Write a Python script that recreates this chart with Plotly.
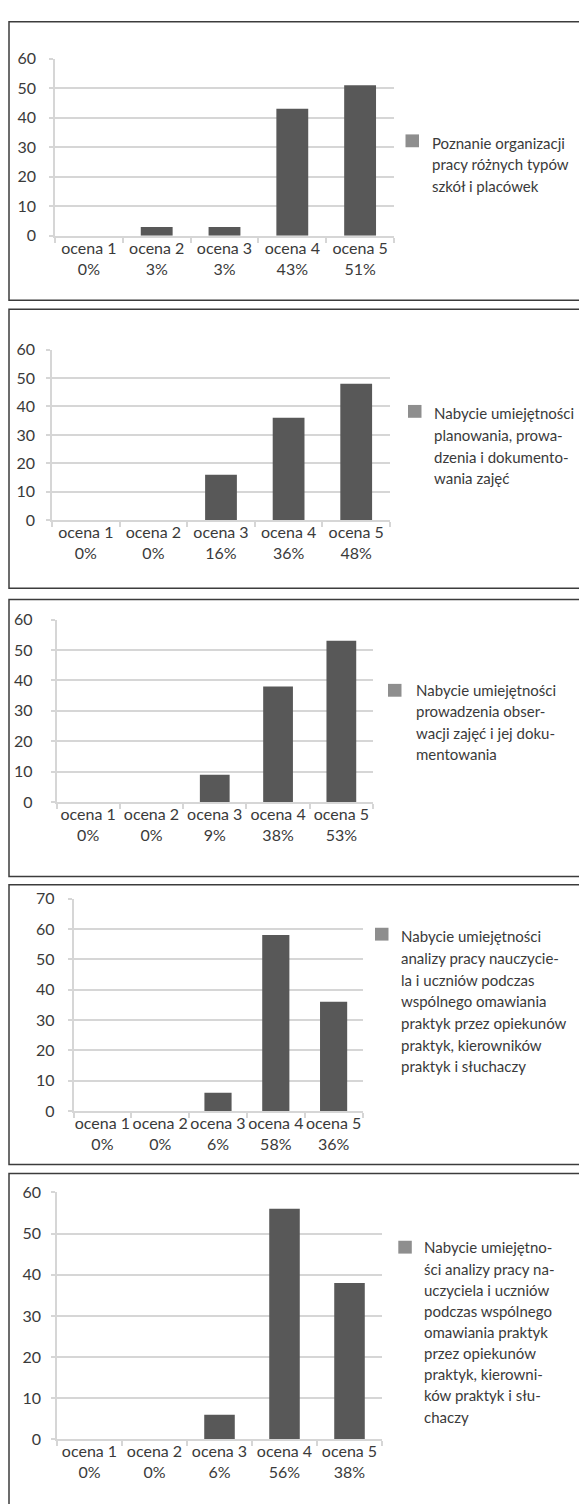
import plotly.graph_objects as go

W, H = 579, 1504

# ---- data -------------------------------------------------------------
categories = ["ocena 1", "ocena 2", "ocena 3", "ocena 4", "ocena 5"]

org_pracy = [0, 3, 3, 43, 51]
planowanie = [0, 0, 16, 36, 48]
obserwacja = [0, 0, 9, 38, 53]
analiza_pracy = [0, 0, 6, 58, 36]
analiza_pracy_2 = [0, 0, 6, 56, 38]

y_max = [60, 60, 60, 70, 60]

legend_1 = ["Poznanie organizacji", "pracy różnych typów", "szkół i placówek"]
legend_2 = ["Nabycie umiejętności", "planowania, prowa-", "dzenia i dokumento-",
            "wania zajęć"]
legend_3 = ["Nabycie umiejętności", "prowadzenia obser-", "wacji zajęć i jej doku-",
            "mentowania"]
legend_4 = ["Nabycie umiejętności", "analizy pracy nauczycie-", "la i uczniów podczas",
            "wspólnego omawiania", "praktyk przez opiekunów", "praktyk, kierowników",
            "praktyk i słuchaczy"]
legend_5 = ["Nabycie umiejętno-", "ści analizy pracy na-", "uczyciela i uczniów",
            "podczas wspólnego", "omawiania praktyk", "przez opiekunów",
            "praktyk, kierowni-", "ków praktyk i słu-", "chaczy"]

series = [org_pracy, planowanie, obserwacja, analiza_pracy, analiza_pracy_2]
legends = [legend_1, legend_2, legend_3, legend_4, legend_5]

# ---- layout of the five stacked panels (pixels) -------------------------
panels = [
    dict(box=(12, 294), px=(55, 394), py=(49.3, 228.7), sq=(405.5, 132.5),
         tx=429.5, ty=134.5, dy=21.7, stand=10),
    dict(box=(303, 585.7), px=(52, 390), py=(344, 516.7), sq=(408, 406.5),
         tx=432, ty=408.3, dy=22.0, stand=8),
    dict(box=(597, 877.7), px=(56.5, 373), py=(617.3, 802.3), sq=(388, 689),
         tx=413.6, ty=688.3, dy=21.9, stand=15),
    dict(box=(886, 1169.3), px=(73.5, 362.5), py=(900, 1115), sq=(375, 936),
         tx=398.8, ty=938.3, dy=21.9, stand=10),
    dict(box=(1178.3, 1530), px=(57, 382), py=(1197.5, 1447.7), sq=(398.3, 1253),
         tx=422.3, ty=1253.3, dy=21.4, stand=7),
]

BAR = "#585858"
KEY = "#8e8e8e"
GRID = "#d6d6d6"
TEXT = "#3a3a3a"
FONT = "Lato"


def fx(p):
    return p / W


def fy(p):
    return 1 - p / H


fig = go.Figure()
shapes = []
annotations = []

for i, (vals, leg, g) in enumerate(zip(series, legends, panels), start=1):
    xa = "x" if i == 1 else f"x{i}"
    ya = "y" if i == 1 else f"y{i}"
    ticktext = [f"{c}<br>{v}%" for c, v in zip(categories, vals)]

    fig.add_trace(go.Bar(
        x=categories, y=vals, xaxis=xa, yaxis=ya,
        marker=dict(color=BAR, line=dict(width=0)),
        showlegend=False, hoverinfo="x+y",
    ))

    fig.layout[f"xaxis{'' if i == 1 else i}"] = dict(
        domain=[fx(g["px"][0]), fx(g["px"][1])],
        anchor=ya, type="category",
        tickmode="array", tickvals=categories, ticktext=ticktext,
        tickangle=0, tickson="boundaries",
        ticks="outside", ticklen=5, tickcolor=GRID, tickwidth=1.5,
        ticklabelstandoff=-3,
        showline=True, linecolor=GRID, linewidth=1.5,
        showgrid=False, zeroline=False, fixedrange=True,
        tickfont=dict(family=FONT, size=16, color=TEXT),
    )
    fig.layout[f"yaxis{'' if i == 1 else i}"] = dict(
        domain=[fy(g["py"][1]), fy(g["py"][0])],
        anchor=xa, range=[0, y_max[i - 1]], dtick=10,
        ticks="outside", ticklen=4, tickcolor=GRID, tickwidth=1.5,
        showline=True, linecolor=GRID, linewidth=1.5,
        showgrid=True, gridcolor=GRID, gridwidth=1.5,
        zeroline=False, fixedrange=True, ticklabelstandoff=g["stand"],
        tickfont=dict(family=FONT, size=16, color=TEXT),
    )

    # panel frame
    top, bot = g["box"]
    shapes.append(dict(type="rect", xref="paper", yref="paper",
                       x0=fx(9), x1=fx(W + 10), y0=fy(bot), y1=fy(top),
                       line=dict(color="#3c3c3c", width=1.5),
                       fillcolor="rgba(0,0,0,0)", layer="below"))

    # series key
    sx, sy = g["sq"]
    shapes.append(dict(type="rect", xref="paper", yref="paper",
                       x0=fx(sx), x1=fx(sx + 13.5), y0=fy(sy + 6.5), y1=fy(sy - 6.5),
                       line=dict(width=0), fillcolor=KEY))
    for k, line in enumerate(leg):
        annotations.append(dict(
            text=line, xref="paper", yref="paper",
            x=fx(g["tx"]), y=fy(g["ty"] + k * g["dy"]),
            xanchor="left", yanchor="middle", showarrow=False,
            font=dict(family=FONT, size=15, color=TEXT),
        ))

fig.update_layout(
    width=W, height=H, autosize=False,
    margin=dict(l=0, r=0, t=0, b=0),
    paper_bgcolor="white", plot_bgcolor="white",
    bargap=0.53, shapes=shapes, annotations=annotations,
    font=dict(family=FONT, color=TEXT),
)

fig.write_html("out.html")
